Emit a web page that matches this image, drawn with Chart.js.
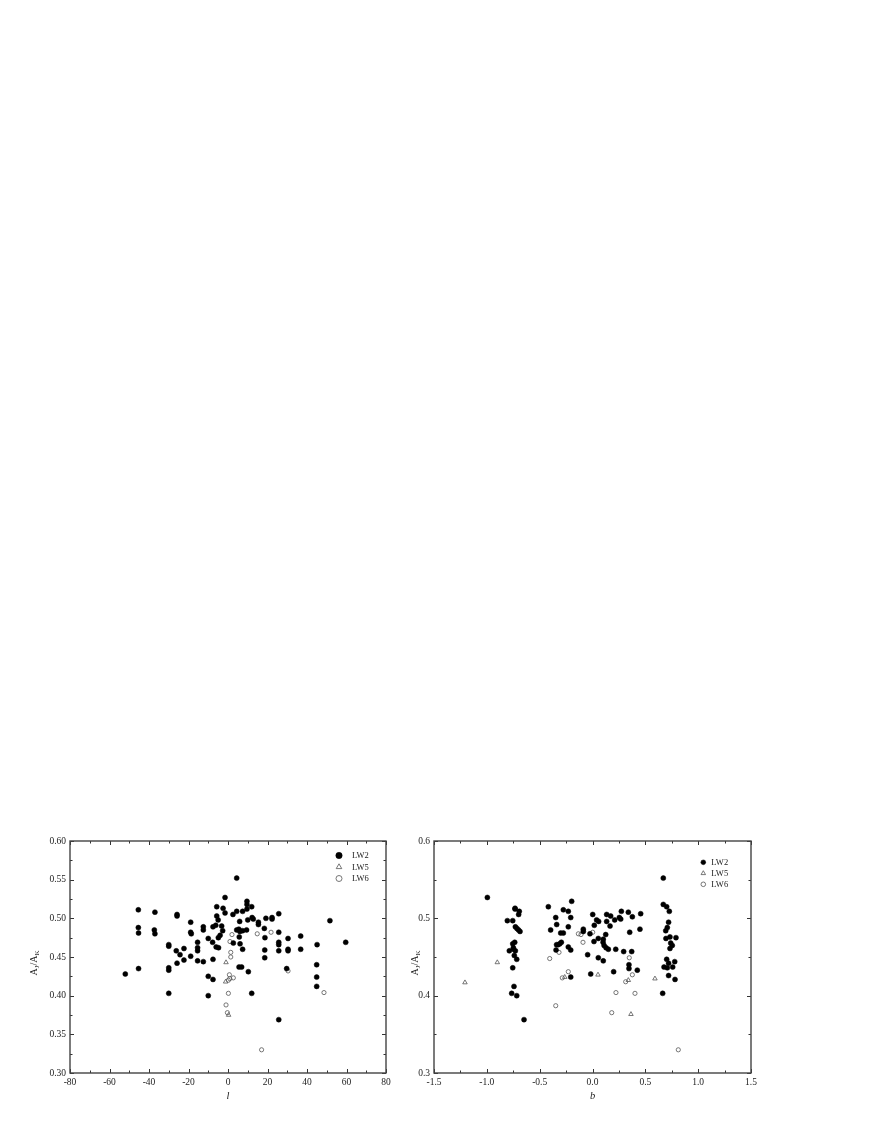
<!DOCTYPE html>
<html>
<head>
<meta charset="utf-8">
<script src="https://cdn.jsdelivr.net/npm/chart.js@4.4.0/dist/chart.umd.min.js"></script>
<style>
  body { margin: 0; background: #fff; }
  #page { position: relative; width: 872px; height: 1128px; background: #fff; }
  canvas { position: absolute; }
  .ytitle {
    position: absolute; width: 50px; height: 14px; line-height: 14px; text-align: center;
    font-family: "Liberation Serif", serif; font-size: 10px; color: #222;
    transform: rotate(-90deg); white-space: nowrap;
  }
  .ytitle sub { font-size: 7px; vertical-align: -2px; }
</style>
</head>
<body>
<div id="page">
  <canvas id="lonChart" width="420" height="300" style="left:0;top:820px"></canvas>
  <canvas id="latChart" width="420" height="300" style="left:390px;top:820px"></canvas>
  <div class="ytitle" style="left:9px;top:956px">A<sub>J</sub>/A<sub>K</sub></div>
  <div class="ytitle" style="left:390px;top:956px">A<sub>J</sub>/A<sub>K</sub></div>
</div>
<script>
// ---- data ----
// left panel: galactic longitude l
const lonLW2 = [-52.0,-45.4,-45.4,-45.3,-45.3,-37.0,-37.3,-37.0,-30.0,-30.0,-30.0,-30.0,-30.0,
  -25.8,-25.8,-26.2,-25.8,-24.3,-22.3,-22.3,-18.9,-18.9,-18.6,-18.9,-15.4,-15.4,-15.4,-15.4,
  -12.5,-12.5,-12.5,-10.0,-10.0,-10.0,-7.8,-7.6,-7.6,-7.6,-6.2,-5.7,-5.7,-5.0,-6.0,-4.8,-4.9,-4.0,
  -1.5,-2.5,-1.5,-3.2,-2.7,2.5,4.4,4.4,7.4,9.6,9.6,9.6,12.0,12.2,12.8,10.0,5.9,
  15.4,15.4,19.2,22.3,22.3,25.7,51.6,4.4,5.5,7.4,9.4,6.0,5.7,2.7,6.1,7.4,
  18.4,18.7,25.7,25.7,25.7,25.7,30.4,30.4,30.4,36.8,36.8,45.1,59.6,
  18.6,18.6,5.6,6.9,10.3,29.7,44.9,44.9,44.9,12.0,25.7];
const ratioLonLW2 = [0.428,0.511,0.488,0.481,0.435,0.508,0.485,0.480,0.466,0.464,0.436,0.433,0.403,
  0.505,0.503,0.458,0.442,0.453,0.461,0.446,0.495,0.482,0.480,0.451,0.469,0.462,0.458,0.445,
  0.489,0.485,0.444,0.474,0.425,0.400,0.469,0.489,0.447,0.421,0.491,0.515,0.503,0.498,0.463,0.462,0.475,0.478,
  0.527,0.513,0.507,0.490,0.484,0.505,0.552,0.509,0.509,0.522,0.518,0.512,0.515,0.501,0.499,0.498,0.496,
  0.495,0.492,0.500,0.501,0.499,0.506,0.497,0.485,0.486,0.484,0.485,0.483,0.476,0.468,0.467,0.460,
  0.487,0.475,0.482,0.469,0.466,0.458,0.474,0.460,0.458,0.477,0.460,0.466,0.469,
  0.459,0.449,0.437,0.437,0.431,0.435,0.440,0.424,0.412,0.403,0.369];
const lonLW5 = [-1.0,-1.2,0.3];
const ratioLonLW5 = [0.443,0.418,0.375];
const lonLW6 = [2.0,1.0,1.4,1.4,0.7,2.7,0.2,0.9,0.2,-1.0,-0.3,14.8,21.8,30.4,48.6,17.0];
const ratioLonLW6 = [0.479,0.470,0.456,0.450,0.427,0.423,0.420,0.422,0.403,0.388,0.378,0.480,0.482,0.432,0.404,0.330];

// right panel: galactic latitude b
const latLW2 = [-0.995,-0.806,-0.755,-0.733,-0.733,-0.693,-0.699,-0.730,-0.715,-0.700,-0.686,
  -0.736,-0.755,-0.749,-0.749,-0.787,-0.730,-0.740,-0.717,-0.755,-0.743,-0.765,-0.717,-0.648,
  -0.418,-0.396,-0.348,-0.339,-0.340,-0.325,-0.310,-0.345,-0.301,-0.276,-0.295,-0.276,-0.229,-0.197,
  -0.206,-0.229,-0.229,-0.206,-0.206,-0.087,-0.087,-0.046,-0.017,0.002,0.017,0.014,-0.024,
  0.039,0.058,0.055,0.055,0.102,0.134,0.172,0.134,0.166,0.210,0.254,0.267,0.273,0.339,0.377,0.456,
  0.102,0.125,0.100,0.110,0.128,0.150,0.220,0.295,0.371,0.352,0.449,0.345,0.345,0.424,0.200,
  0.670,0.670,0.702,0.727,0.720,0.708,0.693,0.733,0.695,0.790,0.740,0.755,0.733,0.702,0.720,0.778,
  0.677,0.708,0.759,0.720,0.781,0.664];
const ratioLatLW2 = [0.527,0.497,0.497,0.513,0.512,0.509,0.505,0.489,0.487,0.485,0.483,
  0.469,0.467,0.462,0.460,0.458,0.458,0.452,0.447,0.436,0.412,0.403,0.400,0.369,
  0.515,0.485,0.501,0.492,0.466,0.466,0.467,0.459,0.481,0.481,0.469,0.511,0.509,0.522,
  0.501,0.489,0.463,0.459,0.424,0.486,0.483,0.453,0.428,0.505,0.491,0.470,0.480,
  0.498,0.496,0.474,0.449,0.445,0.505,0.503,0.496,0.490,0.498,0.501,0.499,0.509,0.508,0.502,0.506,
  0.473,0.479,0.469,0.465,0.462,0.460,0.460,0.457,0.457,0.482,0.486,0.440,0.435,0.433,0.431,
  0.552,0.518,0.515,0.509,0.495,0.488,0.484,0.476,0.474,0.475,0.468,0.465,0.461,0.447,0.442,0.444,
  0.437,0.436,0.437,0.426,0.421,0.403];
const latLW5 = [-1.207,-0.901,-0.263,0.052,0.339,0.591,0.364];
const ratioLatLW5 = [0.417,0.443,0.424,0.427,0.420,0.422,0.376];
const latLW6 = [-0.405,-0.317,-0.348,-0.229,-0.286,-0.134,-0.109,-0.090,0.002,0.348,0.377,0.314,0.222,0.402,0.182,0.812];
const ratioLatLW6 = [0.448,0.456,0.387,0.431,0.423,0.480,0.479,0.469,0.482,0.449,0.427,0.418,0.404,0.403,0.378,0.330];

const seriesNames = ['LW2', 'LW5', 'LW6'];

const FONT = '"Liberation Serif", "Times New Roman", serif';
const pts = (xs, ys) => xs.map((x, i) => ({x: x, y: ys[i]}));

// inward tick marks on all four sides + box frame
const frameTicks = {
  id: 'frameTicks',
  afterDatasetsDraw(chart) {
    const {ctx, chartArea: a} = chart;
    const x = chart.scales.x, y = chart.scales.y;
    ctx.save();
    ctx.strokeStyle = '#333';
    ctx.lineWidth = 1;
    ctx.beginPath();
    x.ticks.forEach(t => {
      const px = Math.round(x.getPixelForValue(t.value)) + 0.5;
      const len = t.label ? 4 : 2.5;
      ctx.moveTo(px, a.bottom); ctx.lineTo(px, a.bottom - len);
      ctx.moveTo(px, a.top); ctx.lineTo(px, a.top + len);
    });
    y.ticks.forEach(t => {
      const py = Math.round(y.getPixelForValue(t.value)) + 0.5;
      const len = t.label ? 4 : 2.5;
      ctx.moveTo(a.left, py); ctx.lineTo(a.left + len, py);
      ctx.moveTo(a.right, py); ctx.lineTo(a.right - len, py);
    });
    ctx.stroke();
    ctx.strokeStyle = '#444';
    ctx.lineWidth = 1.4;
    ctx.strokeRect(a.left, a.top, a.right - a.left, a.bottom - a.top);
    ctx.restore();
  }
};

// legend drawn inside the plot box
const boxLegend = {
  id: 'boxLegend',
  afterDraw(chart, args, o) {
    const ctx = chart.ctx;
    chart.data.datasets.forEach((ds, i) => {
      const cx = o.x, cy = o.y + i * o.gap;
      ctx.save();
      ctx.fillStyle = ds.backgroundColor;
      ctx.strokeStyle = ds.borderColor;
      ctx.lineWidth = ds.borderWidth;
      Chart.helpers.drawPoint(ctx, {pointStyle: ds.pointStyle, radius: o.radius[i], borderWidth: ds.borderWidth, rotation: 0}, cx, cy);
      ctx.fillStyle = '#222';
      ctx.font = o.fontSize + 'px ' + FONT;
      ctx.textBaseline = 'middle';
      ctx.fillText(ds.label, cx + o.textGap, cy + 0.5);
      ctx.restore();
    });
  }
};

function makeDatasets(x2, y2, x5, y5, x6, y6, r) {
  return [
    {label: seriesNames[0], data: pts(x2, y2), pointStyle: 'circle', pointRadius: r[0],
     backgroundColor: '#000', borderColor: '#000', borderWidth: 0.5},
    {label: seriesNames[1], data: pts(x5, y5), pointStyle: 'triangle', pointRadius: r[1],
     backgroundColor: 'rgba(0,0,0,0)', borderColor: '#555', borderWidth: 0.8},
    {label: seriesNames[2], data: pts(x6, y6), pointStyle: 'circle', pointRadius: r[2],
     backgroundColor: 'rgba(0,0,0,0)', borderColor: '#555', borderWidth: 0.8}
  ];
}

function makeChart(id, datasets, sx, sy, leftWidth, padRight, legend) {
  return new Chart(document.getElementById(id), {
    type: 'scatter',
    data: {datasets: datasets},
    options: {
      responsive: false,
      animation: false,
      devicePixelRatio: 1,
      layout: {padding: {top: 21, right: padRight, left: 0, bottom: 0}},
      plugins: {legend: {display: false}, tooltip: {enabled: false}, boxLegend: legend},
      scales: {
        x: {
          type: 'linear', min: sx.min, max: sx.max,
          grid: {display: false, drawTicks: false},
          border: {display: false},
          ticks: {stepSize: sx.step, autoSkip: false, maxRotation: 0, padding: 4, color: '#222',
                  font: {family: FONT, size: 9.5}, callback: sx.label},
          title: {display: true, text: sx.title, color: '#222',
                  font: {family: FONT, size: 10.5, style: 'italic'}, padding: {top: 0, bottom: 17}},
          afterFit: s => { s.height = 47; }
        },
        y: {
          type: 'linear', min: sy.min, max: sy.max,
          grid: {display: false, drawTicks: false},
          border: {display: false},
          ticks: {stepSize: sy.step, autoSkip: false, padding: 4, color: '#222',
                  font: {family: FONT, size: 9.5}, callback: sy.label},
          afterFit: s => { s.width = leftWidth; }
        }
      }
    },
    plugins: [frameTicks, boxLegend]
  });
}

const onMultiple = (v, m, d) => Math.abs(Math.round(v / m) * m - v) < 1e-6 ? v.toFixed(d) : '';

makeChart('lonChart',
  makeDatasets(lonLW2, ratioLonLW2, lonLW5, ratioLonLW5, lonLW6, ratioLonLW6, [2.5, 2.6, 2.1]),
  {min: -80, max: 80, step: 10, title: 'l', label: v => onMultiple(v, 20, 0)},
  {min: 0.30, max: 0.60, step: 0.025, label: v => onMultiple(v, 0.05, 2)},
  70, 34,
  {x: 339, y: 35.5, gap: 11.5, textGap: 13, fontSize: 8.5, radius: [3.2, 3.2, 3.0]});

makeChart('latChart',
  makeDatasets(latLW2, ratioLatLW2, latLW5, ratioLatLW5, latLW6, ratioLatLW6, [2.5, 2.6, 2.1]),
  {min: -1.5, max: 1.5, step: 0.25, title: 'b', label: v => onMultiple(v, 0.5, 1)},
  {min: 0.3, max: 0.6, step: 0.05, label: v => onMultiple(v, 0.1, 1)},
  44, 59,
  {x: 313.3, y: 42.3, gap: 11, textGap: 8, fontSize: 8.5, radius: [2.4, 2.6, 2.3]});
</script>
</body>
</html>
